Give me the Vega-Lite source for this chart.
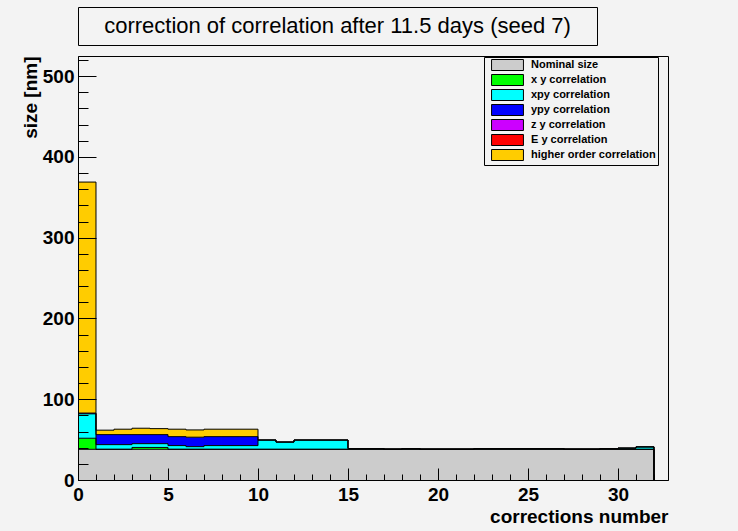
{
  "$schema": "https://vega.github.io/schema/vega-lite/v6.json",
  "background": "#f3f3f3",
  "padding": {"left": 20, "top": 6, "right": 70, "bottom": 4},
  "autosize": {"type": "pad"},
  "config": {
    "font": "Liberation Sans",
    "view": {"stroke": "black", "strokeWidth": 1, "fill": "#f3f3f3"},
    "axis": {"labelFont": "Liberation Sans", "titleFont": "Liberation Sans", "labelColor": "black", "titleColor": "black", "tickColor": "black", "domainColor": "black", "grid": false}
  },
  "bounds": "flush",
  "spacing": 11,
  "vconcat": [
    {
      "width": 519,
      "height": 38,
      "view": {"stroke": "black", "strokeWidth": 1, "fill": "#f3f3f3"},
      "data": {"values": [{"t": "correction of correlation after 11.5 days (seed 7)"}]},
      "mark": {"type": "text", "font": "Liberation Sans", "fontSize": 22, "fontWeight": "normal", "color": "black", "baseline": "middle", "align": "center"},
      "encoding": {"text": {"field": "t", "type": "nominal"}}
    },
    {
      "width": 590,
      "height": 424,
      "data": {
        "values": [
          {"lo": 0, "hi": 1, "Nominal size": 38, "x y correlation": 13.7, "xpy correlation": 30.2, "ypy correlation": 1.0, "higher order correlation": 286},
          {"lo": 1, "hi": 2, "Nominal size": 38, "x y correlation": 0, "xpy correlation": 5.8, "ypy correlation": 12.4, "higher order correlation": 5.5},
          {"lo": 2, "hi": 3, "Nominal size": 38, "x y correlation": 0, "xpy correlation": 5.8, "ypy correlation": 12.4, "higher order correlation": 6.7},
          {"lo": 3, "hi": 4, "Nominal size": 38, "x y correlation": 2.3, "xpy correlation": 4.7, "ypy correlation": 11.2, "higher order correlation": 7.9},
          {"lo": 4, "hi": 5, "Nominal size": 38, "x y correlation": 2.3, "xpy correlation": 4.7, "ypy correlation": 11.2, "higher order correlation": 7.4},
          {"lo": 5, "hi": 6, "Nominal size": 38, "x y correlation": 0, "xpy correlation": 4.6, "ypy correlation": 11.1, "higher order correlation": 9.2},
          {"lo": 6, "hi": 7, "Nominal size": 38, "x y correlation": 0, "xpy correlation": 3.3, "ypy correlation": 11.7, "higher order correlation": 9.0},
          {"lo": 7, "hi": 8, "Nominal size": 38, "x y correlation": 0, "xpy correlation": 4.6, "ypy correlation": 11.1, "higher order correlation": 9.2},
          {"lo": 8, "hi": 9, "Nominal size": 38, "x y correlation": 0, "xpy correlation": 4.6, "ypy correlation": 11.1, "higher order correlation": 9.2},
          {"lo": 9, "hi": 10, "Nominal size": 38, "x y correlation": 0, "xpy correlation": 4.6, "ypy correlation": 11.1, "higher order correlation": 9.2},
          {"lo": 10, "hi": 11, "Nominal size": 38, "x y correlation": 0, "xpy correlation": 11.5, "ypy correlation": 0, "higher order correlation": 0},
          {"lo": 11, "hi": 12, "Nominal size": 38, "x y correlation": 0, "xpy correlation": 9.0, "ypy correlation": 0, "higher order correlation": 0},
          {"lo": 12, "hi": 13, "Nominal size": 38, "x y correlation": 0, "xpy correlation": 11.5, "ypy correlation": 0, "higher order correlation": 0},
          {"lo": 13, "hi": 14, "Nominal size": 38, "x y correlation": 0, "xpy correlation": 11.5, "ypy correlation": 0, "higher order correlation": 0},
          {"lo": 14, "hi": 15, "Nominal size": 38, "x y correlation": 0, "xpy correlation": 11.5, "ypy correlation": 0, "higher order correlation": 0},
          {"lo": 15, "hi": 16, "Nominal size": 38, "x y correlation": 0, "xpy correlation": 1.0, "ypy correlation": 0, "higher order correlation": 0},
          {"lo": 16, "hi": 17, "Nominal size": 38, "x y correlation": 0, "xpy correlation": 1.0, "ypy correlation": 0, "higher order correlation": 0},
          {"lo": 17, "hi": 18, "Nominal size": 38, "x y correlation": 0, "xpy correlation": 0.3, "ypy correlation": 0, "higher order correlation": 0},
          {"lo": 18, "hi": 19, "Nominal size": 38, "x y correlation": 0, "xpy correlation": 1.0, "ypy correlation": 0, "higher order correlation": 0},
          {"lo": 19, "hi": 20, "Nominal size": 38, "x y correlation": 0, "xpy correlation": 0.3, "ypy correlation": 0, "higher order correlation": 0},
          {"lo": 20, "hi": 21, "Nominal size": 38, "x y correlation": 0, "xpy correlation": 0.3, "ypy correlation": 0, "higher order correlation": 0},
          {"lo": 21, "hi": 22, "Nominal size": 38, "x y correlation": 0, "xpy correlation": 0.3, "ypy correlation": 0, "higher order correlation": 0},
          {"lo": 22, "hi": 23, "Nominal size": 38, "x y correlation": 0, "xpy correlation": 1.0, "ypy correlation": 0, "higher order correlation": 0},
          {"lo": 23, "hi": 24, "Nominal size": 38, "x y correlation": 0, "xpy correlation": 1.0, "ypy correlation": 0, "higher order correlation": 0},
          {"lo": 24, "hi": 25, "Nominal size": 38, "x y correlation": 0, "xpy correlation": 1.0, "ypy correlation": 0, "higher order correlation": 0},
          {"lo": 25, "hi": 26, "Nominal size": 38, "x y correlation": 0, "xpy correlation": 1.0, "ypy correlation": 0, "higher order correlation": 0},
          {"lo": 26, "hi": 27, "Nominal size": 38, "x y correlation": 0, "xpy correlation": 1.0, "ypy correlation": 0, "higher order correlation": 0},
          {"lo": 27, "hi": 28, "Nominal size": 38, "x y correlation": 0, "xpy correlation": 0.3, "ypy correlation": 0, "higher order correlation": 0},
          {"lo": 28, "hi": 29, "Nominal size": 38, "x y correlation": 0, "xpy correlation": 0.3, "ypy correlation": 0, "higher order correlation": 0},
          {"lo": 29, "hi": 30, "Nominal size": 38, "x y correlation": 0, "xpy correlation": 1.0, "ypy correlation": 0, "higher order correlation": 0},
          {"lo": 30, "hi": 31, "Nominal size": 38, "x y correlation": 0, "xpy correlation": 1.5, "ypy correlation": 0, "higher order correlation": 0},
          {"lo": 31, "hi": 32, "Nominal size": 38, "x y correlation": 0, "xpy correlation": 3.0, "ypy correlation": 0, "higher order correlation": 0}
        ]
      },
      "transform": [
        {"fold": ["Nominal size", "x y correlation", "xpy correlation", "ypy correlation", "higher order correlation"], "as": ["layer", "value"]},
        {"calculate": "indexof(['Nominal size', 'x y correlation', 'xpy correlation', 'ypy correlation', 'z y correlation', 'E y correlation', 'higher order correlation'], datum.layer)", "as": "ord"},
        {"stack": "value", "groupby": ["lo"], "sort": [{"field": "ord", "order": "ascending"}], "as": ["v0", "v1"]},
        {"window": [{"op": "lag", "field": "v1", "as": "prev"}], "groupby": ["layer"], "sort": [{"field": "lo", "order": "ascending"}]}
      ],
      "layer": [
        {
          "transform": [{"filter": "datum.value > 0"}],
          "mark": {"type": "bar"},
          "encoding": {
            "x": {
              "field": "lo", "type": "quantitative", "title": "corrections number",
              "scale": {"domain": [0, 32.7778], "nice": false, "zero": false},
              "axis": {
                "values": [0,1,2,3,4,5,6,7,8,9,10,11,12,13,14,15,16,17,18,19,20,21,22,23,24,25,26,27,28,29,30,31,32],
                "tickSize": {"condition": {"test": "datum.value % 5 === 0", "value": -12}, "value": -6},
                "labelExpr": "datum.value % 5 === 0 ? datum.label : ''",
                "labelFontSize": 19, "labelFontWeight": "bold", "labelPadding": 17, "labelFlush": false, "labelOverlap": false, "labelAngle": 0,
                "titleFontSize": 19, "titleFontWeight": "bold", "titleAnchor": "end", "titleAlign": "right", "titlePadding": -3,
                "zindex": 1
              }
            },
            "x2": {"field": "hi"},
            "y": {
              "field": "v0", "type": "quantitative", "title": "size [nm]",
              "scale": {"domain": [0, 525], "nice": false},
              "axis": {
                "values": [0,20,40,60,80,100,120,140,160,180,200,220,240,260,280,300,320,340,360,380,400,420,440,460,480,500,520],
                "tickSize": {"condition": {"test": "datum.value % 100 === 0", "value": -18}, "value": -10},
                "labelExpr": "datum.value % 100 === 0 ? datum.label : ''",
                "labelFontSize": 19, "labelFontWeight": "bold", "labelPadding": 22, "labelFlush": false, "labelOverlap": false,
                "titleFontSize": 19, "titleFontWeight": "bold", "titleAnchor": "end", "titlePadding": 2,
                "zindex": 1
              }
            },
            "y2": {"field": "v1"},
            "color": {
              "field": "layer", "type": "nominal",
              "scale": {
                "domain": ["Nominal size", "x y correlation", "xpy correlation", "ypy correlation", "z y correlation", "E y correlation", "higher order correlation"],
                "range": ["#cccccc", "#00ff00", "#00ffff", "#0000ff", "#cc00ff", "#ff0000", "#ffcc00"]
              },
              "legend": {
                "orient": "none", "legendX": 406, "legendY": 50,
                "title": null, "padding": 2, "fillColor": "#f3f3f3", "strokeColor": "black",
                "labelFont": "Liberation Sans", "labelFontSize": 11, "labelFontWeight": "bold", "labelColor": "black",
                "symbolType": "M-2.9,-1H2.9V1H-2.9Z", "symbolSize": 121, "symbolOffset": 15.5, "labelOffset": 17.5,
                "symbolStrokeColor": "black", "symbolStrokeWidth": 1, "symbolOpacity": 1, "rowPadding": -1,
                "labelLimit": 300,
                "encode": {"symbols": {"update": {"stroke": {"value": "black"}, "strokeWidth": {"value": 1}}}}
              }
            }
          }
        },
        {
          "mark": {"type": "rule", "color": "black", "strokeWidth": 1},
          "encoding": {
            "x": {
              "field": "lo", "type": "quantitative", "title": "corrections number",
              "axis": {
                "values": [0,1,2,3,4,5,6,7,8,9,10,11,12,13,14,15,16,17,18,19,20,21,22,23,24,25,26,27,28,29,30,31,32],
                "tickSize": {"condition": {"test": "datum.value % 5 === 0", "value": -12}, "value": -6},
                "labelExpr": "datum.value % 5 === 0 ? datum.label : ''",
                "labelFontSize": 19, "labelFontWeight": "bold", "labelPadding": 17, "labelFlush": false, "labelOverlap": false, "labelAngle": 0,
                "titleFontSize": 19, "titleFontWeight": "bold", "titleAnchor": "end", "titleAlign": "right", "titlePadding": -3,
                "zindex": 1
              }
            },
            "x2": {"field": "hi"},
            "y": {
              "field": "v1", "type": "quantitative", "title": "size [nm]",
              "axis": {
                "values": [0,20,40,60,80,100,120,140,160,180,200,220,240,260,280,300,320,340,360,380,400,420,440,460,480,500,520],
                "tickSize": {"condition": {"test": "datum.value % 100 === 0", "value": -18}, "value": -10},
                "labelExpr": "datum.value % 100 === 0 ? datum.label : ''",
                "labelFontSize": 19, "labelFontWeight": "bold", "labelPadding": 22, "labelFlush": false, "labelOverlap": false,
                "titleFontSize": 19, "titleFontWeight": "bold", "titleAnchor": "end", "titlePadding": 2,
                "zindex": 1
              }
            }
          }
        },
        {
          "transform": [{"filter": "datum.prev != null"}],
          "mark": {"type": "rule", "color": "black", "strokeWidth": 1},
          "encoding": {
            "x": {
              "field": "lo", "type": "quantitative", "title": "corrections number",
              "axis": {
                "values": [0,1,2,3,4,5,6,7,8,9,10,11,12,13,14,15,16,17,18,19,20,21,22,23,24,25,26,27,28,29,30,31,32],
                "tickSize": {"condition": {"test": "datum.value % 5 === 0", "value": -12}, "value": -6},
                "labelExpr": "datum.value % 5 === 0 ? datum.label : ''",
                "labelFontSize": 19, "labelFontWeight": "bold", "labelPadding": 17, "labelFlush": false, "labelOverlap": false, "labelAngle": 0,
                "titleFontSize": 19, "titleFontWeight": "bold", "titleAnchor": "end", "titleAlign": "right", "titlePadding": -3,
                "zindex": 1
              }
            },
            "y": {
              "field": "prev", "type": "quantitative", "title": "size [nm]",
              "axis": {
                "values": [0,20,40,60,80,100,120,140,160,180,200,220,240,260,280,300,320,340,360,380,400,420,440,460,480,500,520],
                "tickSize": {"condition": {"test": "datum.value % 100 === 0", "value": -18}, "value": -10},
                "labelExpr": "datum.value % 100 === 0 ? datum.label : ''",
                "labelFontSize": 19, "labelFontWeight": "bold", "labelPadding": 22, "labelFlush": false, "labelOverlap": false,
                "titleFontSize": 19, "titleFontWeight": "bold", "titleAnchor": "end", "titlePadding": 2,
                "zindex": 1
              }
            },
            "y2": {"field": "v1"}
          }
        },
        {
          "transform": [{"filter": "datum.lo == 31"}],
          "mark": {"type": "rule", "color": "black", "strokeWidth": 1},
          "encoding": {
            "x": {
              "field": "hi", "type": "quantitative", "title": "corrections number",
              "axis": {
                "values": [0,1,2,3,4,5,6,7,8,9,10,11,12,13,14,15,16,17,18,19,20,21,22,23,24,25,26,27,28,29,30,31,32],
                "tickSize": {"condition": {"test": "datum.value % 5 === 0", "value": -12}, "value": -6},
                "labelExpr": "datum.value % 5 === 0 ? datum.label : ''",
                "labelFontSize": 19, "labelFontWeight": "bold", "labelPadding": 17, "labelFlush": false, "labelOverlap": false, "labelAngle": 0,
                "titleFontSize": 19, "titleFontWeight": "bold", "titleAnchor": "end", "titleAlign": "right", "titlePadding": -3,
                "zindex": 1
              }
            },
            "y": {
              "field": "v1", "type": "quantitative", "title": "size [nm]",
              "axis": {
                "values": [0,20,40,60,80,100,120,140,160,180,200,220,240,260,280,300,320,340,360,380,400,420,440,460,480,500,520],
                "tickSize": {"condition": {"test": "datum.value % 100 === 0", "value": -18}, "value": -10},
                "labelExpr": "datum.value % 100 === 0 ? datum.label : ''",
                "labelFontSize": 19, "labelFontWeight": "bold", "labelPadding": 22, "labelFlush": false, "labelOverlap": false,
                "titleFontSize": 19, "titleFontWeight": "bold", "titleAnchor": "end", "titlePadding": 2,
                "zindex": 1
              }
            },
            "y2": {"datum": 0}
          }
        }
      ]
    }
  ]
}
